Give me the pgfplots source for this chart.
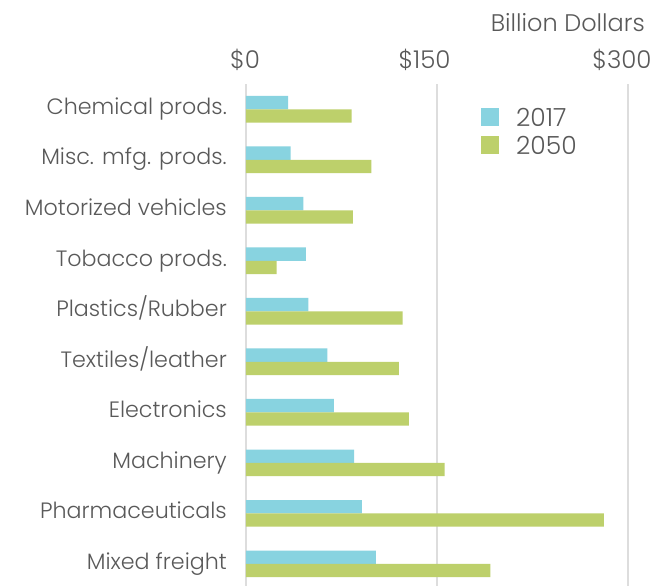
\documentclass[border=0pt]{standalone}
\usepackage{fontspec}
\IfFontExistsTF{Poppins Light}{\setmainfont{Poppins Light}}{\setmainfont{Poppins}}
\usepackage{pgfplots}
\pgfplotsset{compat=1.18}
\definecolor{c17}{HTML}{88D3E0}
\definecolor{c50}{HTML}{BDD06B}
\definecolor{txt}{HTML}{595959}
\definecolor{gridc}{HTML}{DDDDDD}
\pgfplotstableread{
y v17 v50
0 33 83
1 35 98.5
2 45 84
3 47 24
4 49 123
5 64 120
6 69 128
7 85 156
8 91 281
9 102 192
}\data
\begin{document}
\begin{tikzpicture}
\useasboundingbox[fill=white] (0,0) rectangle (670pt,-586pt);
\begin{axis}[
  at={(246pt,-84pt)}, anchor=north west,
  scale only axis, width=382pt, height=502pt,
  xbar, xmin=0, xmax=300, ymin=-0.5, ymax=9.44, y dir=reverse,
  bar width=0.263,
  xtick={0,150,300}, xticklabels={\$0\kern2pt,\$150\kern25pt,\$300\kern12pt}, xticklabel pos=upper,
  ytick={0,...,9},
  yticklabels={Chemical prods.,Misc. mfg. prods.,Motorized vehicles,Tobacco prods.,Plastics/Rubber,Textiles/leather,Electronics,Machinery,Pharmaceuticals,Mixed freight},
  xmajorgrids, grid style={draw=gridc, line width=1.2pt},
  axis line style={draw=none}, major tick length=0pt, tick style={draw=none},
  yticklabel style={font=\fontsize{22.2}{24}\selectfont, text=txt, anchor=mid east, inner sep=0pt, xshift=-19pt, yshift=-2.5pt},
  xticklabel style={font=\fontsize{24.5}{25}\selectfont, text=txt, anchor=base, inner sep=0pt, yshift=15.5pt},
  legend style={at={(0.615,0.956)}, anchor=north west, draw=none, fill=none,
    inner sep=0pt, font=\fontsize{25}{26}\selectfont, text=txt, row sep=4.5pt,
    /tikz/every odd column/.append style={column sep=15pt}},
  legend cell align=left,
  legend image code/.code={\fill (0pt,-8pt) rectangle (18pt,10pt);},
]
\addplot[fill=c17, draw=none, bar shift=-0.1315] table[x=v17, y=y] {\data};
\addplot[fill=c50, draw=none, bar shift=0.1315] table[x=v50, y=y] {\data};
\legend{2017,2050}
\end{axis}
\node[anchor=base east, inner sep=0pt, text=txt, font=\fontsize{24}{25}\selectfont] at (645pt,-31.5pt) {Billion Dollars};
\end{tikzpicture}
\end{document}
